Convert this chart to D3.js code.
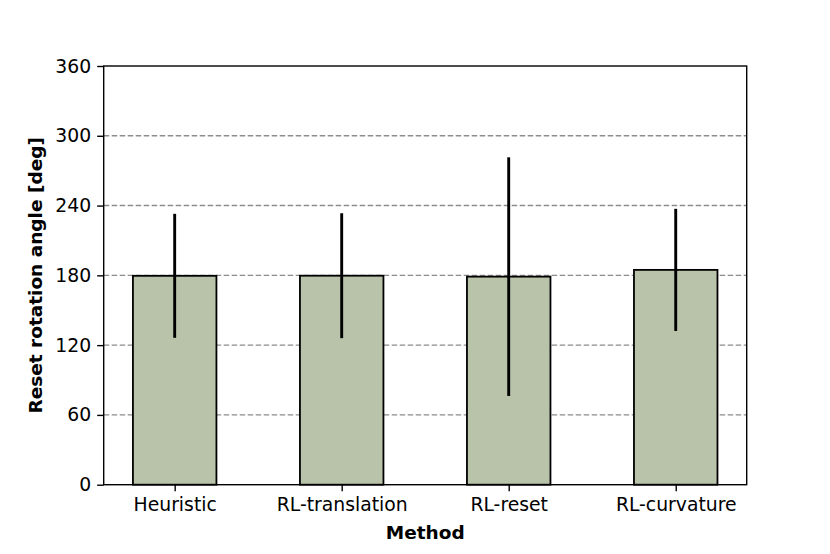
<!DOCTYPE html>
<html><head><meta charset="utf-8">
<script src="https://cdn.jsdelivr.net/npm/d3@7"></script>
<style>body{margin:0;background:#fff}svg{display:block}text{font-family:"DejaVu Sans",sans-serif}</style>
</head><body><svg id="c" width="830" height="554"></svg>
<script>
const categories = ["Heuristic", "RL-translation", "RL-reset", "RL-curvature"];
const means = [179.6, 179.7, 178.9, 184.7];
const stds = [53.3, 53.7, 102.6, 52.5];
const yTicks = [0, 60, 120, 180, 240, 300, 360];

const svg = d3.select("#c");
const L = 103.7, R = 746.7, T = 66, B = 484.7;
const x = d3.scaleLinear().domain([-0.425, 3.425]).range([L, R]);
const y = d3.scaleLinear().domain([0, 360]).range([B, T]);
const bw = 0.5;

// grid
svg.append("g").selectAll("line").data(yTicks.filter(d => d > 0 && d < 360)).join("line")
  .attr("x1", L).attr("x2", R).attr("y1", d => y(d)).attr("y2", d => y(d))
  .attr("stroke", "#8c8c8c").attr("stroke-width", 1.4).attr("stroke-dasharray", "5.5,2.5");

// bars
svg.append("g").selectAll("rect").data(categories).join("rect")
  .attr("x", (d, i) => x(i - bw / 2)).attr("width", (d, i) => x(i + bw / 2) - x(i - bw / 2))
  .attr("y", (d, i) => y(means[i])).attr("height", (d, i) => y(0) - y(means[i]))
  .attr("fill", "#b9c3a9").attr("stroke", "#000").attr("stroke-width", 1.8);

// error bars
svg.append("g").selectAll("line").data(categories).join("line")
  .attr("x1", (d, i) => x(i)).attr("x2", (d, i) => x(i))
  .attr("y1", (d, i) => y(means[i] - stds[i])).attr("y2", (d, i) => y(means[i] + stds[i]))
  .attr("stroke", "#000").attr("stroke-width", 2.9);

// axes
const yAxis = d3.axisLeft(y).tickValues(yTicks).tickSize(6.5).tickPadding(6);
const gy = svg.append("g").attr("transform", `translate(${L},0)`).call(yAxis);
const xAxis = d3.axisBottom(x).tickValues([0, 1, 2, 3]).tickFormat(i => categories[i]).tickSize(6.5).tickPadding(6);
const gx = svg.append("g").attr("transform", `translate(0,${B})`).call(xAxis);
[gx, gy].forEach(g => {
  g.select(".domain").remove();
  g.selectAll("line").attr("stroke", "#000").attr("stroke-width", 1.4);
  g.selectAll("text").attr("font-size", 18.8).attr("fill", "#000").attr("font-family", "DejaVu Sans");
});

// frame
svg.append("rect").attr("x", L).attr("y", T).attr("width", R - L).attr("height", B - T)
  .attr("fill", "none").attr("stroke", "#000").attr("stroke-width", 1.4);

// labels
svg.append("text").attr("x", (L + R) / 2).attr("y", 538.5).attr("text-anchor", "middle")
  .attr("font-size", 18.5).attr("font-weight", "bold").text("Method");
svg.append("text").attr("transform", `translate(42,${(T + B) / 2}) rotate(-90)`).attr("text-anchor", "middle")
  .attr("font-size", 18.5).attr("font-weight", "bold").text("Reset rotation angle [deg]");
</script></body></html>
